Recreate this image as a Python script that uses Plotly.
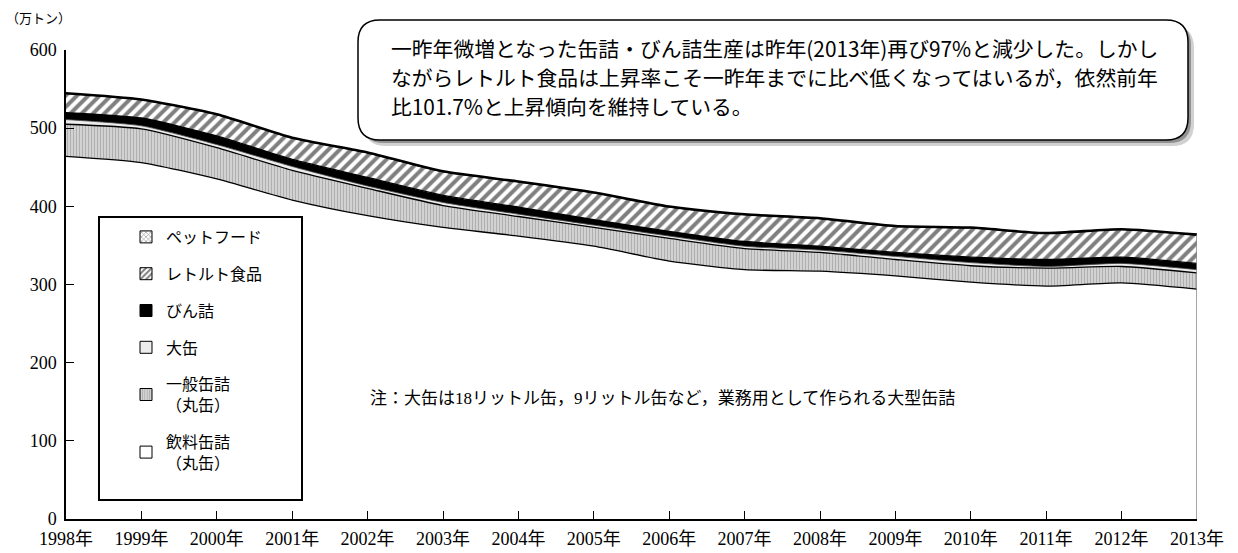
import plotly.graph_objects as go

years = list(range(1998, 2014))
year_labels = [f"{y}年" for y in years]

inryo   = [464, 456, 435, 408, 388, 373, 362, 349, 330, 319, 317, 311, 303, 298, 302, 294]
ippan   = [41, 43, 40, 38, 35, 28, 25, 24, 29, 27, 24, 21, 21, 23, 21, 21]
okan    = [6, 4, 4, 5, 3, 4, 3, 3, 3, 3, 3, 4, 4, 2, 4, 4]
bin_    = [9, 10, 11, 9, 11, 9, 9, 7, 6, 6, 5, 5, 7, 9, 8, 8]
retort  = [24, 23, 27, 27, 31, 30, 32, 34, 31, 34, 35, 33, 37, 33, 35, 36]
petfood = [1, 1, 1, 1, 1, 1, 1, 1, 1, 1, 1, 1, 1, 1, 1, 1]

names = ["飲料缶詰<br>（丸缶）", "一般缶詰<br>（丸缶）", "大缶", "びん詰", "レトルト食品", "ペットフード"]

SERIF = "Liberation Serif, Noto Sans CJK JP, serif"
SANS = "Noto Sans CJK JP, sans-serif"

styles = [
    dict(fillcolor="white", pattern=None),
    dict(fillcolor="#cccccc", pattern=dict(shape="|", fgcolor="#8c8c8c", bgcolor="#d2d2d2", size=3, solidity=0.35)),
    dict(fillcolor="#ececec", pattern=None),
    dict(fillcolor="black", pattern=None),
    dict(fillcolor=None, pattern=dict(shape="/", fgcolor="black", bgcolor="white", size=8, solidity=0.5)),
    dict(fillcolor=None, pattern=dict(shape="x", fgcolor="black", bgcolor="white", size=6, solidity=0.3)),
]
series = [inryo, ippan, okan, bin_, retort, petfood]

fig = go.Figure()
for i, (vals, st) in enumerate(zip(series, styles)):
    lw = 2.2 if i == 5 else (0.8 if i == 2 else 1.3)
    kw = dict(x=years, y=vals, name=names[i], stackgroup="s", mode="lines", showlegend=False,
              line=dict(color="black" if i != 2 else "#444", width=lw, shape="spline", smoothing=0.6))
    if st["fillcolor"]:
        kw["fillcolor"] = st["fillcolor"]
    if st["pattern"]:
        kw["fillpattern"] = st["pattern"]
    fig.add_trace(go.Scatter(**kw))

# right edge of the stacked area
total_last = sum(s[-1] for s in series)
fig.add_trace(go.Scatter(x=[years[-1], years[-1]], y=[0, total_last], mode="lines",
                         line=dict(color="#888", width=1.5), showlegend=False, hoverinfo="skip"))

# legend entries (square swatches), top to bottom
for rank, i in enumerate([5, 4, 3, 2, 1, 0]):
    st = styles[i]
    marker = dict(color=st["fillcolor"] or "white", line=dict(color="black", width=1))
    if st["pattern"]:
        p = dict(st["pattern"])
        if i == 4:
            p["size"] = 5
        if i == 5:
            p["size"] = 4
        marker["pattern"] = p
    fig.add_trace(go.Bar(x=[None], y=[None], name=names[i], marker=marker,
                         legendgroup=f"g{rank}", legendrank=rank + 1, hoverinfo="skip"))

W, H = 1238, 553
ml, mr, mt, mb = 66, 41, 50, 34
pw, ph = W - ml - mr, H - mt - mb

def px(x):
    return (x - ml) / pw

def py(y):
    return (H - mb - y) / ph

def rounded(x0, y0, x1, y1, r):
    rx, ry = r / pw, r / ph
    X0, X1 = px(x0), px(x1)
    Yt, Yb = py(y0), py(y1)
    return (f"M{X0+rx},{Yt} L{X1-rx},{Yt} Q{X1},{Yt} {X1},{Yt-ry} "
            f"L{X1},{Yb+ry} Q{X1},{Yb} {X1-rx},{Yb} L{X0+rx},{Yb} "
            f"Q{X0},{Yb} {X0},{Yb+ry} L{X0},{Yt-ry} Q{X0},{Yt} {X0+rx},{Yt} Z")

shapes = [
    dict(type="path", xref="paper", yref="paper", path=rounded(364, 26, 1194, 146, 22),
         fillcolor="rgba(0,0,0,0.18)", line=dict(width=0), layer="above"),
    dict(type="path", xref="paper", yref="paper", path=rounded(362, 23, 1191, 143, 22),
         fillcolor="rgba(0,0,0,0.3)", line=dict(width=0), layer="above"),
    dict(type="path", xref="paper", yref="paper", path=rounded(358, 20, 1188, 140, 22),
         fillcolor="white", line=dict(color="black", width=1.5), layer="above"),
    # legend frame
    dict(type="rect", xref="paper", yref="paper", x0=px(99), x1=px(302), y0=py(217), y1=py(500),
         line=dict(color="black", width=2), fillcolor="rgba(0,0,0,0)", layer="above"),
]

box_lines = [
    "一昨年微増となった缶詰・びん詰生産は昨年(2013年)再び97%と減少した。しかし",
    "ながらレトルト食品は上昇率こそ一昨年までに比べ低くなってはいるが，依然前年",
    "比101.7%と上昇傾向を維持している。",
]
annotations = []
for i, t in enumerate(box_lines):
    annotations.append(dict(text=t, xref="paper", yref="paper", x=px(389), y=py(48 + 29 * i),
                            xanchor="left", yanchor="middle", showarrow=False,
                            font=dict(family=SANS, size=20.8, color="black")))
annotations.append(dict(text="注：大缶は18リットル缶，9リットル缶など，業務用として作られる大型缶詰",
                        xref="paper", yref="paper", x=px(368), y=py(398), xanchor="left",
                        yanchor="middle", showarrow=False,
                        font=dict(family=SERIF, size=17, color="black")))
annotations.append(dict(text="（万トン）", xref="paper", yref="paper", x=px(4), y=py(18),
                        xanchor="left", yanchor="middle", showarrow=False,
                        font=dict(family=SERIF, size=13, color="black")))

fig.update_layout(
    width=W, height=H,
    margin=dict(l=ml, r=mr, t=mt, b=mb, autoexpand=False),
    paper_bgcolor="white", plot_bgcolor="white",
    showlegend=True,
    legend=dict(x=px(126), y=py(220), xanchor="left", yanchor="top",
                traceorder="grouped", tracegroupgap=13,
                font=dict(family=SERIF, size=16, color="black"),
                bgcolor="rgba(0,0,0,0)", borderwidth=0),
    shapes=shapes, annotations=annotations,
    xaxis=dict(range=[1998, 2013], tickvals=years, ticktext=year_labels,
               showline=True, linecolor="black", linewidth=1.5, ticks="inside",
               ticklen=8, tickcolor="black", showgrid=False, zeroline=False,
               ticklabelstandoff=3, automargin=False,
               tickfont=dict(family=SERIF, size=18, color="black")),
    yaxis=dict(range=[0, 600], tickvals=[0, 100, 200, 300, 400, 500, 600],
               showline=True, linecolor="black", linewidth=1.5, ticks="inside",
               ticklen=8, tickcolor="black", showgrid=False, zeroline=False,
               automargin=False,
               tickfont=dict(family=SERIF, size=18, color="black"), ticklabelstandoff=4),
)

fig.write_html("out.html", config={"displayModeBar": False},
               post_script="document.body.style.margin='0px';document.body.style.overflow='hidden';")
